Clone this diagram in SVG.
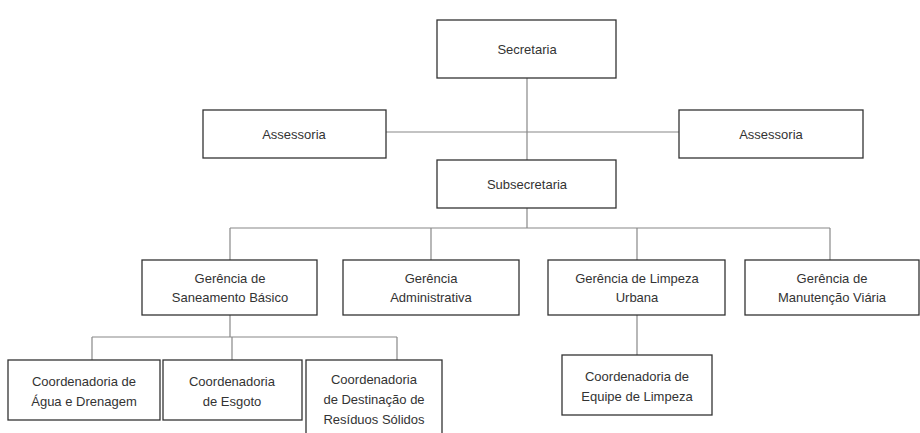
<svg xmlns="http://www.w3.org/2000/svg" width="920" height="433" viewBox="0 0 920 433">
<style>
rect{fill:#fff;stroke:#333;stroke-width:1.3}
text{font-family:"Liberation Sans",Arial,sans-serif;font-size:13px;fill:#333;text-anchor:middle}
.c line{stroke:#888;stroke-width:1.2}
</style>
<rect x="0" y="0" width="920" height="433" style="stroke:none;fill:#fff"/>
<g class="c" id="connectors">
<line x1="527" y1="78" x2="527" y2="160"/>
<line x1="386" y1="132" x2="679" y2="132"/>
<line x1="527" y1="208" x2="527" y2="228"/>
<line x1="230" y1="228" x2="830" y2="228"/>
<line x1="230" y1="228" x2="230" y2="260"/>
<line x1="431" y1="228" x2="431" y2="260"/>
<line x1="637" y1="228" x2="637" y2="260"/>
<line x1="830" y1="228" x2="830" y2="260"/>
<line x1="230" y1="315" x2="230" y2="337"/>
<line x1="92" y1="337" x2="397" y2="337"/>
<line x1="92" y1="337" x2="92" y2="360"/>
<line x1="232" y1="337" x2="232" y2="360"/>
<line x1="397" y1="337" x2="397" y2="360"/>
<line x1="637" y1="315" x2="637" y2="355"/>
</g>
<g id="secretaria"><rect x="437" y="20" width="179" height="58"/><text x="527" y="54">Secretaria</text></g>
<g id="assessoria1"><rect x="203" y="110" width="183" height="48"/><text x="294" y="139">Assessoria</text></g>
<g id="assessoria2"><rect x="679" y="110" width="184" height="48"/><text x="771" y="139">Assessoria</text></g>
<g id="subsecretaria"><rect x="437" y="160" width="179" height="48"/><text x="527" y="189">Subsecretaria</text></g>
<g id="g1"><rect x="142" y="260" width="175" height="55"/><text x="230" y="283">Gerência de</text><text x="230" y="302">Saneamento Básico</text></g>
<g id="g2"><rect x="343" y="260" width="176" height="55"/><text x="431" y="283">Gerência</text><text x="431" y="302">Administrativa</text></g>
<g id="g3"><rect x="548" y="260" width="177" height="55"/><text x="637" y="283">Gerência de Limpeza</text><text x="637" y="302">Urbana</text></g>
<g id="g4"><rect x="745" y="260" width="174" height="55"/><text x="832" y="283">Gerência de</text><text x="832" y="302">Manutenção Viária</text></g>
<g id="c1"><rect x="8" y="360" width="152" height="60"/><text x="84" y="386">Coordenadoria de</text><text x="84" y="406">Água e Drenagem</text></g>
<g id="c2"><rect x="163" y="360" width="139" height="60"/><text x="232" y="386">Coordenadoria</text><text x="232" y="406">de Esgoto</text></g>
<g id="c3"><rect x="306" y="360" width="136" height="76"/><text x="374" y="384">Coordenadoria</text><text x="374" y="404">de Destinação de</text><text x="374" y="424">Resíduos Sólidos</text></g>
<g id="c4"><rect x="562" y="355" width="150" height="60"/><text x="637" y="381">Coordenadoria de</text><text x="637" y="401">Equipe de Limpeza</text></g>
</svg>
